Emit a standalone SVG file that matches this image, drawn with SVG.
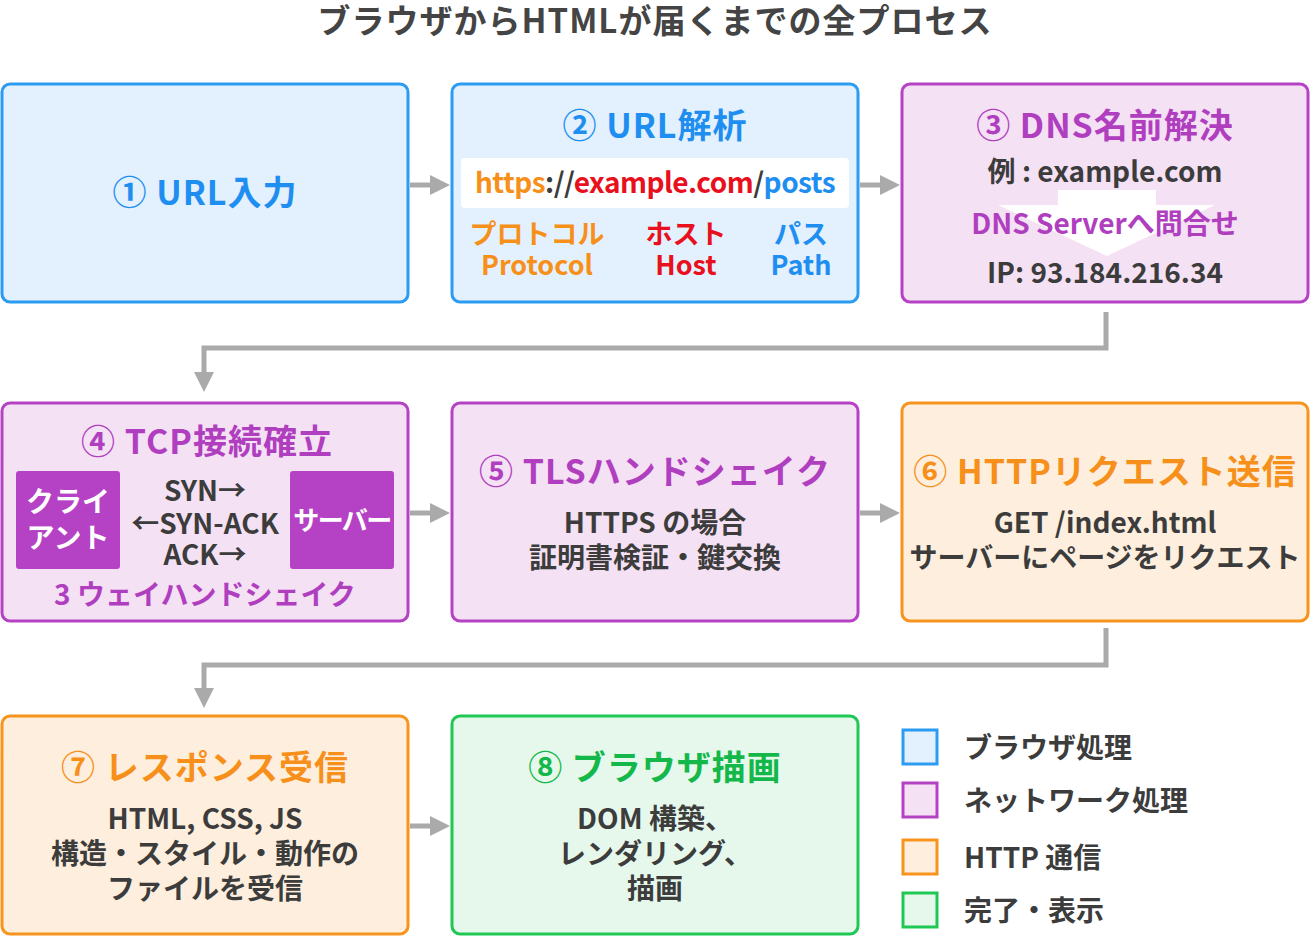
<svg xmlns="http://www.w3.org/2000/svg" width="1310" height="937" viewBox="0 0 1310 937">
<style>
text{font-family:"Noto Sans CJK JP","Noto Sans",sans-serif;font-weight:bold;text-anchor:middle}
.h{letter-spacing:1px}
.b{fill:#e3f0fd;stroke:#2b9cf2;stroke-width:3}
.p{fill:#f5e1f4;stroke:#b542c4;stroke-width:3}
.o{fill:#fdeedd;stroke:#f7941d;stroke-width:3}
.g{fill:#e6f8ec;stroke:#1fc755;stroke-width:3}
.tb{fill:#1e8ef0}.tp{fill:#b03fc0}.to{fill:#f7901a}.tg{fill:#14b84a}.td{fill:#3c3c3c}
.c{fill:none;stroke:#aaa;stroke-width:5}
</style>
<defs><marker id="ah" markerWidth="4" markerHeight="4" refX="2" refY="2" orient="auto" markerUnits="strokeWidth"><path d="M0,0L4,2L0,4z" fill="#aaa"/></marker></defs>
<rect width="1310" height="937" fill="#fff"/>
<text x="655" y="33" font-size="33" fill="#444" letter-spacing="1">ブラウザからHTMLが届くまでの全プロセス</text>
<g id="connectors">
<path class="c" d="M410,185H440" marker-end="url(#ah)"/>
<path class="c" d="M860,185H890" marker-end="url(#ah)"/>
<path class="c" d="M1106,312V348H204V382" marker-end="url(#ah)"/>
<path class="c" d="M410,513H440" marker-end="url(#ah)"/>
<path class="c" d="M860,513H890" marker-end="url(#ah)"/>
<path class="c" d="M1106,628V665H204V698" marker-end="url(#ah)"/>
<path class="c" d="M410,826H440" marker-end="url(#ah)"/>
</g>
<g id="n1"><rect class="b" x="2" y="84" width="406" height="218" rx="8"/><text x="205" y="205" font-size="34" class="tb h">① URL入力</text></g>
<g id="n2"><rect class="b" x="452" y="84" width="406" height="218" rx="8"/><text x="655" y="138" font-size="34" class="tb h">② URL解析</text>
<rect x="461" y="158" width="388" height="50" rx="4" fill="#fff"/>
<text x="655" y="193" font-size="28" letter-spacing="-0.5"><tspan fill="#f7901a">https</tspan><tspan fill="#3c3c3c">://</tspan><tspan fill="#e8101c">example.com</tspan><tspan fill="#3c3c3c">/</tspan><tspan fill="#1e8ef0">posts</tspan></text>
<text x="537" y="244" font-size="27" class="to">プロトコル</text><text x="537" y="275" font-size="27" class="to">Protocol</text>
<text x="686" y="244" font-size="27" fill="#e8101c">ホスト</text><text x="686" y="275" font-size="27" fill="#e8101c">Host</text>
<text x="801" y="244" font-size="27" class="tb">パス</text><text x="801" y="275" font-size="27" class="tb">Path</text></g>
<g id="n3"><rect class="p" x="902" y="84" width="406" height="218" rx="8"/><text x="1105" y="138" font-size="34" class="tp h">③ DNS名前解決</text>
<text x="1105" y="182" font-size="28" class="td">例 : example.com</text>
<path d="M1058,190H1156V205H1215L1107,256L998,205H1058Z" fill="#fff"/>
<text x="1105" y="234" font-size="28" class="tp">DNS Serverへ問合せ</text>
<text x="1105" y="283" font-size="28" class="td">IP: 93.184.216.34</text></g>
<g id="n4"><rect class="p" x="2" y="403" width="406" height="218" rx="8"/><text x="207" y="454" font-size="34" class="tp h">④ TCP接続確立</text>
<rect x="16" y="471" width="104" height="98" rx="3" fill="#b542c4"/><text x="68" y="512" font-size="28" fill="#fff">クライ</text><text x="68" y="548" font-size="28" fill="#fff">アント</text>
<rect x="290" y="471" width="104" height="98" rx="3" fill="#b542c4"/><text x="342" y="530" font-size="26" fill="#fff" letter-spacing="-1.5">サーバー</text>
<text x="205" y="501" font-size="28" class="td">SYN→</text><text x="205" y="534" font-size="28" class="td">←SYN-ACK</text><text x="205" y="565" font-size="28" class="td">ACK→</text>
<text x="205" y="605" font-size="28" class="tp">3 ウェイハンドシェイク</text></g>
<g id="n5"><rect class="p" x="452" y="403" width="406" height="218" rx="8"/><text x="655" y="484" font-size="34" class="tp h">⑤ TLSハンドシェイク</text>
<text x="655" y="533" font-size="28" class="td">HTTPS の場合</text><text x="655" y="568" font-size="28" class="td">証明書検証・鍵交換</text></g>
<g id="n6"><rect class="o" x="902" y="403" width="406" height="218" rx="8"/><text x="1105" y="484" font-size="34" class="to h">⑥ HTTPリクエスト送信</text>
<text x="1105" y="533" font-size="28" class="td">GET /index.html</text><text x="1105" y="568" font-size="28" class="td">サーバーにページをリクエスト</text></g>
<g id="n7"><rect class="o" x="2" y="716" width="406" height="218" rx="8"/><text x="205" y="780" font-size="34" class="to h">⑦ レスポンス受信</text>
<text x="205" y="829" font-size="28" class="td">HTML, CSS, JS</text><text x="205" y="864" font-size="28" class="td">構造・スタイル・動作の</text><text x="205" y="899" font-size="28" class="td">ファイルを受信</text></g>
<g id="n8"><rect class="g" x="452" y="716" width="406" height="218" rx="8"/><text x="655" y="780" font-size="34" class="tg h">⑧ ブラウザ描画</text>
<text x="655" y="829" font-size="28" class="td">DOM 構築、</text><text x="655" y="864" font-size="28" class="td">レンダリング、</text><text x="655" y="899" font-size="28" class="td">描画</text></g>
<g id="legend">
<rect class="b" x="903" y="730" width="34" height="34"/><text x="964" y="758" font-size="28" class="td" style="text-anchor:start">ブラウザ処理</text>
<rect class="p" x="903" y="783" width="34" height="34"/><text x="964" y="811" font-size="28" class="td" style="text-anchor:start">ネットワーク処理</text>
<rect class="o" x="903" y="840" width="34" height="34"/><text x="964" y="868" font-size="28" class="td" style="text-anchor:start">HTTP 通信</text>
<rect class="g" x="903" y="893" width="34" height="34"/><text x="964" y="921" font-size="28" class="td" style="text-anchor:start">完了・表示</text>
</g>
</svg>
